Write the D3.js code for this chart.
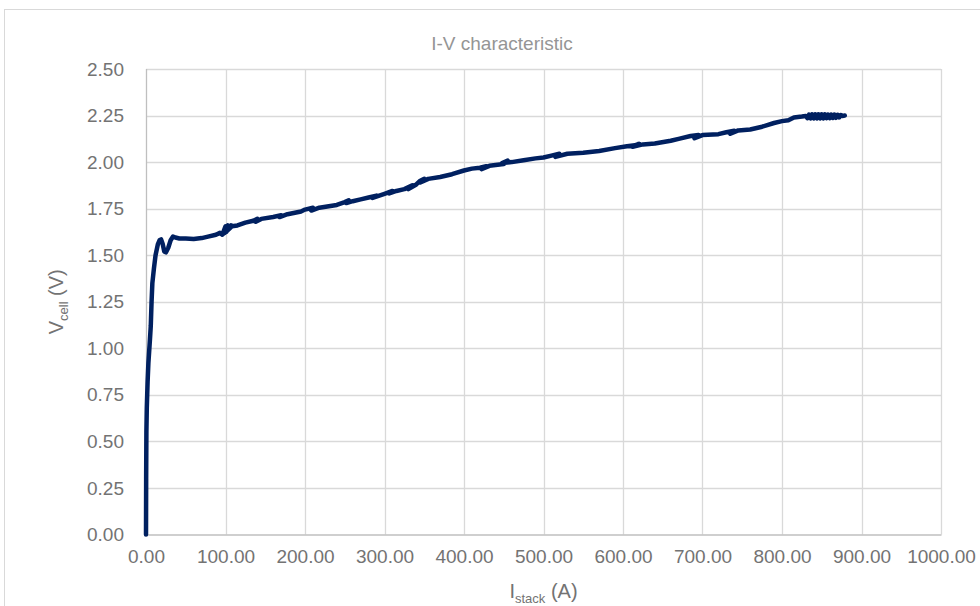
<!DOCTYPE html>
<html>
<head>
<meta charset="utf-8">
<script src="https://cdn.jsdelivr.net/npm/d3@7"></script>
<style>
  html, body { margin: 0; padding: 0; background: #fff; }
  svg { display: block; font-family: "Liberation Sans", Arial, sans-serif; }
</style>
</head>
<body>
<svg id="chart" width="980" height="606"></svg>
<script>
// ---- data ----
const current = [0, 0.2, 0.5, 1, 2, 3, 5, 6, 7, 8, 10, 12, 15, 17, 19, 21, 23, 25, 28, 31, 34, 37, 42, 50, 60, 70, 78, 88, 93,
  96, 100, 97, 103, 99, 105, 101, 107, 103, 108, 115, 125, 135, 140, 138, 145, 160, 170, 168, 178, 195, 200, 210, 208, 218,
  240, 250, 255, 252, 260, 270, 280, 290, 285, 300, 310, 306, 315, 325, 335, 330, 340, 345, 350, 345, 355, 370, 385, 400, 410, 420, 428,
  422, 432, 450, 455, 448, 460, 475, 490, 500, 510, 520, 515, 530, 550, 570, 590, 605, 615, 620, 612, 625, 640, 660, 670,
  685, 695, 690, 700, 720, 730, 740, 735, 745, 760, 775, 790, 800, 808, 815, 825,
  830, 832, 834, 836, 838, 840, 842, 844, 846, 848, 850, 852, 854, 856, 858, 860, 862, 864, 866, 868, 870, 872, 874, 876, 879];
const voltage = [0, 0.3, 0.55, 0.68, 0.82, 0.92, 1.05, 1.12, 1.25, 1.35, 1.43, 1.50, 1.56, 1.58, 1.585, 1.56, 1.52, 1.515, 1.54, 1.58, 1.60, 1.595, 1.59, 1.59, 1.587, 1.592, 1.60, 1.61, 1.62,
  1.61, 1.655, 1.615, 1.66, 1.62, 1.655, 1.625, 1.66, 1.635, 1.655, 1.66, 1.675, 1.685, 1.695, 1.68, 1.695, 1.705, 1.715, 1.705, 1.72, 1.735, 1.745, 1.755, 1.74, 1.755,
  1.77, 1.785, 1.795, 1.78, 1.79, 1.80, 1.81, 1.82, 1.808, 1.83, 1.845, 1.832, 1.845, 1.855, 1.875, 1.855, 1.88, 1.90, 1.91, 1.89, 1.91, 1.92, 1.935, 1.955, 1.965, 1.97, 1.978,
  1.962, 1.98, 1.99, 2.008, 1.995, 2.00, 2.01, 2.02, 2.025, 2.035, 2.045, 2.028, 2.045, 2.05, 2.06, 2.075, 2.085, 2.09, 2.098, 2.082, 2.095, 2.10, 2.115, 2.125,
  2.14, 2.145, 2.128, 2.145, 2.15, 2.16, 2.168, 2.152, 2.17, 2.175, 2.19, 2.21, 2.22, 2.225, 2.24, 2.245,
  2.248, 2.236, 2.255, 2.235, 2.256, 2.235, 2.256, 2.235, 2.256, 2.235, 2.256, 2.235, 2.256, 2.236, 2.255, 2.236, 2.255, 2.237, 2.255, 2.238, 2.254, 2.240, 2.253, 2.248, 2.250];
const xTicks = [0, 100, 200, 300, 400, 500, 600, 700, 800, 900, 1000];
const yTicks = [0, 0.25, 0.5, 0.75, 1.0, 1.25, 1.5, 1.75, 2.0, 2.25, 2.5];
const titleText = "I-V characteristic";

// ---- layout ----
const svg = d3.select("#chart");
const plot = { left: 146, right: 941, top: 69, bottom: 534.5 };

const x = d3.scaleLinear().domain([0, 1000]).range([plot.left, plot.right]);
const y = d3.scaleLinear().domain([0, 2.5]).range([plot.bottom, plot.top]);

// chart area border
svg.append("rect").attr("x", 4.5).attr("y", 9.5).attr("width", 1000).attr("height", 1000)
  .attr("fill", "#fff").attr("stroke", "#d9d9d9").attr("stroke-width", 1);

// title
svg.append("text").attr("x", 502).attr("y", 50).attr("text-anchor", "middle")
  .attr("font-size", 19).attr("fill", "#959595").text(titleText);

// gridlines
svg.append("g").selectAll("line.h").data(yTicks.slice(1)).join("line")
  .attr("x1", plot.left).attr("x2", plot.right)
  .attr("y1", d => Math.round(y(d)) + 0.5).attr("y2", d => Math.round(y(d)) + 0.5)
  .attr("stroke", "#d9d9d9").attr("stroke-width", 1.3);
svg.append("g").selectAll("line.v").data(xTicks).join("line")
  .attr("y1", plot.top).attr("y2", plot.bottom)
  .attr("x1", d => Math.round(x(d)) + 0.5).attr("x2", d => Math.round(x(d)) + 0.5)
  .attr("stroke", d => d === 0 ? "#bfbfbf" : "#d9d9d9").attr("stroke-width", 1.3);

// x axis
const xAxis = d3.axisBottom(x).tickValues(xTicks).tickFormat(d3.format(".2f")).tickSize(0).tickPadding(15);
const gx = svg.append("g").attr("transform", `translate(0,${plot.bottom})`).call(xAxis);
gx.select(".domain").attr("stroke", "#bfbfbf").attr("stroke-width", 1.6);
gx.selectAll("text").attr("font-size", 19).attr("fill", "#737373").attr("font-family", "Liberation Sans, Arial, sans-serif");

// y axis
const yAxis = d3.axisLeft(y).tickValues(yTicks).tickFormat(d3.format(".2f")).tickSize(0).tickPadding(22);
const gy = svg.append("g").attr("transform", `translate(${plot.left},0)`).call(yAxis);
gy.select(".domain").remove();
gy.selectAll("text").attr("font-size", 19).attr("fill", "#737373").attr("font-family", "Liberation Sans, Arial, sans-serif");

// series
const pts = current.map((c, i) => [c, voltage[i]]);
const line = d3.line().x(d => x(d[0])).y(d => y(d[1])).curve(d3.curveLinear);
svg.append("path").datum(pts).attr("d", line)
  .attr("fill", "none").attr("stroke", "#002060").attr("stroke-width", 4.5)
  .attr("stroke-linejoin", "round").attr("stroke-linecap", "round");

// axis titles
const xt = svg.append("text").attr("x", (plot.left + plot.right) / 2).attr("y", 598)
  .attr("text-anchor", "middle").attr("font-size", 20).attr("fill", "#737373");
xt.append("tspan").text("I");
xt.append("tspan").attr("font-size", 13).attr("dy", 5).text("stack");
xt.append("tspan").attr("dy", -5).text(" (A)");

const yt = svg.append("text")
  .attr("transform", `translate(63,${(plot.top + plot.bottom) / 2}) rotate(-90)`)
  .attr("text-anchor", "middle").attr("font-size", 20).attr("fill", "#737373");
yt.append("tspan").text("V");
yt.append("tspan").attr("font-size", 13).attr("dy", 5).text("cell");
yt.append("tspan").attr("dy", -5).text(" (V)");
</script>
</body>
</html>
